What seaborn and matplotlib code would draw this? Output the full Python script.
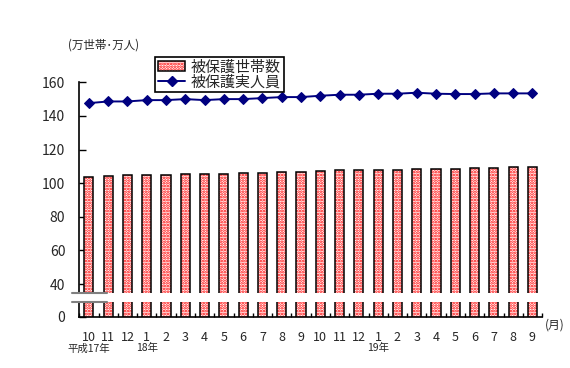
import numpy as np
import pandas as pd
import matplotlib
matplotlib.use("Agg")
import matplotlib.pyplot as plt
import seaborn as sns
from matplotlib.patches import Patch, Rectangle
from matplotlib.lines import Line2D
from matplotlib.transforms import blended_transform_factory
from matplotlib.ticker import FixedLocator
from matplotlib.legend_handler import HandlerTuple

months = ["10", "11", "12", "1", "2", "3", "4", "5", "6", "7", "8", "9",
          "10", "11", "12", "1", "2", "3", "4", "5", "6", "7", "8", "9"]
households = [103.7, 104.3, 104.9, 104.9, 104.9, 105.5, 105.5, 105.3, 106.1, 106.1,
              106.9, 106.9, 107.5, 107.9, 107.9, 107.9, 107.9, 108.5, 108.5, 108.5,
              109.1, 109.1, 109.7, 109.7]
persons = [147.6, 148.6, 148.6, 149.4, 149.4, 150.0, 149.4, 150.0, 150.0, 150.6,
           151.2, 151.2, 152.0, 152.6, 152.6, 153.2, 153.2, 153.8, 153.2, 153.0,
           153.0, 153.4, 153.4, 153.4]
year_labels = {0: "平成17年", 3: "18年", 15: "19年"}
ytick_values = [40, 60, 80, 100, 120, 140, 160]
series_names = ["被保護世帯数", "被保護実人員"]
unit_label = "(万世帯･万人)"
month_unit = "(月)"

sns.set_style("white")
plt.rcParams["font.family"] = ["Noto Sans CJK JP", "DejaVu Sans"]
plt.rcParams["hatch.linewidth"] = 1.3

df = pd.DataFrame({"idx": range(len(months)), "month": months,
                   "households": households, "persons": persons})

fig = plt.figure(figsize=(5.7, 3.68), dpi=100)
ax = fig.add_axes([0.139, 0.1394, 0.812, 0.637])

bottom = 20.6
HATCH = "......"

# hatched fill
sns.barplot(data=df, x="idx", y="households", color="white", saturation=1,
            width=0.47, ax=ax, zorder=2)
for p in ax.patches:
    p.set_hatch(HATCH)
    p.set_edgecolor("#ff0000")
    p.set_linewidth(0)
# black outline
sns.barplot(data=df, x="idx", y="households", color="black", fill=False,
            width=0.47, ax=ax, linewidth=1.1, zorder=3)

sns.lineplot(data=df, x="idx", y="persons", color="#000080", marker="D",
             markersize=5.5, markeredgecolor="#000080", linewidth=1.4, ax=ax, zorder=4)

ax.set_xlim(-0.5, len(months) - 0.5)
ax.set_ylim(bottom, 160)

ax.set_yticks([bottom] + ytick_values)
ax.set_yticklabels(["0"] + [str(v) for v in ytick_values])
ax.set_xticks(range(len(months)))
ax.set_xticklabels(months)
ax.xaxis.set_minor_locator(FixedLocator(np.arange(-0.5, len(months), 1.0)))
ax.tick_params(axis="x", which="major", length=0, pad=10, labelsize=9)
ax.tick_params(axis="x", which="minor", direction="in", length=3, width=1, color="black", bottom=True)
ax.tick_params(axis="y", direction="in", length=5, width=1, color="black", pad=10, labelsize=10, left=True)
ax.set_xlabel("")
ax.set_ylabel("")
for s in ["top", "right"]:
    ax.spines[s].set_visible(False)
for s in ["left", "bottom"]:
    ax.spines[s].set_color("black")
    ax.spines[s].set_linewidth(1.2)

# axis break
trans = blended_transform_factory(ax.transAxes, ax.transData)
ax.add_patch(Rectangle((-0.02, 29.2), 1.03, 34.4 - 29.2, transform=trans,
                       facecolor="white", edgecolor="none", zorder=5, clip_on=False))
for yb in (29.2, 34.4):
    ax.add_line(Line2D([-0.016, 0.06], [yb, yb], transform=trans, color="#808080",
                       linewidth=1.5, zorder=6, clip_on=False))

# year sub-labels
xtrans = blended_transform_factory(ax.transData, ax.transAxes)
for i, lab in year_labels.items():
    ax.text(i, -0.135, lab, transform=xtrans, ha="center", va="center", fontsize=7.5)
ax.text(1.005, -0.035, month_unit, transform=ax.transAxes, ha="left", va="center", fontsize=8.5)
fig.text(0.119, 0.878, unit_label, ha="left", va="center", fontsize=8.3)

leg_bar = (Patch(facecolor="white", edgecolor="#ff0000", hatch=HATCH, linewidth=0),
           Patch(fill=False, edgecolor="black", linewidth=1.1))
leg_line = Line2D([], [], color="#000080", marker="D", markersize=5.5, linewidth=1.4)
leg = fig.legend([leg_bar, leg_line], series_names, loc="upper left",
                 bbox_to_anchor=(0.272, 0.845), fontsize=10.8, frameon=True,
                 fancybox=False, edgecolor="black", framealpha=1,
                 handlelength=1.8, handletextpad=0.4, borderpad=0.2,
                 labelspacing=0.05, borderaxespad=0,
                 handler_map={tuple: HandlerTuple(ndivide=1)})
leg.get_frame().set_linewidth(1.2)

fig.savefig("out.png", dpi=100)
